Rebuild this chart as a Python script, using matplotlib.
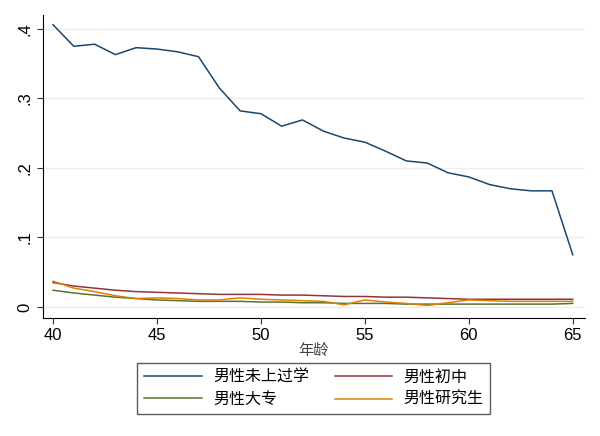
import matplotlib
matplotlib.use("Agg")
import matplotlib.pyplot as plt

plt.rcParams['font.family'] = ['Liberation Sans', 'Noto Sans CJK SC', 'DejaVu Sans']

ages = list(range(40, 66))

# share by education, men
none_school = [0.406, 0.375, 0.378, 0.363, 0.373, 0.371, 0.367, 0.360, 0.315, 0.282,
               0.278, 0.260, 0.269, 0.253, 0.243, 0.237, 0.224, 0.210, 0.207, 0.193,
               0.187, 0.176, 0.170, 0.167, 0.167, 0.075]
junior_mid = [0.035, 0.030, 0.027, 0.024, 0.022, 0.021, 0.020, 0.019, 0.018, 0.018,
              0.018, 0.017, 0.017, 0.016, 0.015, 0.015, 0.014, 0.014, 0.013, 0.012,
              0.011, 0.011, 0.011, 0.011, 0.011, 0.011]
college = [0.024, 0.020, 0.017, 0.014, 0.012, 0.010, 0.009, 0.008, 0.008, 0.008,
           0.007, 0.007, 0.006, 0.006, 0.005, 0.005, 0.005, 0.004, 0.004, 0.004,
           0.004, 0.004, 0.004, 0.004, 0.004, 0.005]
postgrad = [0.037, 0.027, 0.022, 0.016, 0.012, 0.013, 0.012, 0.010, 0.010, 0.013,
            0.011, 0.010, 0.009, 0.008, 0.003, 0.010, 0.007, 0.005, 0.002, 0.006,
            0.010, 0.009, 0.008, 0.008, 0.008, 0.008]

labels = ['男性未上过学', '男性初中', '男性大专', '男性研究生']
colors = ['#1a476f', '#90353b', '#55752f', '#e37e00']

fig = plt.figure(figsize=(6, 4.36), dpi=100)
ax = fig.add_axes([0.0717, 0.2706, 0.903, 0.695])

series = [none_school, junior_mid, college, postgrad]
for vals, lab, col in zip(series, labels, colors):
    ax.plot(ages, vals, color=col, lw=1.1, label=lab)

ax.set_xlim(39.52, 65.58)
ax.set_ylim(-0.016, 0.42)
ax.set_xticks([40, 45, 50, 55, 60, 65])
ax.set_yticks([0, 0.1, 0.2, 0.3, 0.4])
ax.set_yticklabels(['0', '.1', '.2', '.3', '.4'], rotation=90, va='center')
ax.tick_params(labelsize=12, length=4, color='#333333')
ax.grid(axis='y', color='#eeeeee', lw=1)
ax.set_axisbelow(True)
for s in ['top', 'right']:
    ax.spines[s].set_visible(False)
ax.set_xlabel('年龄', fontsize=11, color='#444444', labelpad=0)

# legend fills by column, so reorder to get rows like the original
handles, labs = ax.get_legend_handles_labels()
order = [0, 2, 1, 3]
leg = fig.legend([handles[i] for i in order], [labs[i] for i in order],
                 ncol=2, loc='center', bbox_to_anchor=(0.523, 0.109),
                 fontsize=11.5, handlelength=3.6, handletextpad=0.7,
                 columnspacing=1.6, fancybox=False, edgecolor='#333333',
                 borderpad=0.45, labelspacing=0.45)
leg.get_frame().set_linewidth(1)

fig.savefig('out.png', dpi=100)
